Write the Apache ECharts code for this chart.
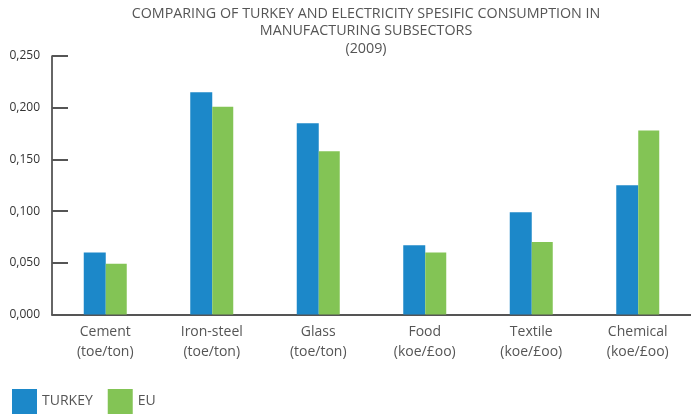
<!DOCTYPE html>
<html>
<head>
<meta charset="utf-8">
<script src="https://cdn.jsdelivr.net/npm/echarts@6/dist/echarts.min.js"></script>
<style>
html,body{margin:0;padding:0;background:#fff;}
#c{width:691px;height:418px;}
</style>
</head>
<body>
<div id="c"></div>
<script>
const categories = ['Cement', 'Iron-steel', 'Glass', 'Food', 'Textile', 'Chemical'];
const units = ['(toe/ton)', '(toe/ton)', '(toe/ton)', '(koe/£oo)', '(koe/£oo)', '(koe/£oo)'];
const turkey = [0.060, 0.215, 0.185, 0.067, 0.099, 0.125];
const eu = [0.049, 0.201, 0.158, 0.060, 0.070, 0.178];
const yTicks = [0, 0.05, 0.10, 0.15, 0.20, 0.25];

const chart = echarts.init(document.getElementById('c'));
chart.setOption({
  animation: false,
  backgroundColor: '#fff',
  title: {
    text: 'COMPARING OF TURKEY AND ELECTRICITY SPESIFIC CONSUMPTION IN\nMANUFACTURING SUBSECTORS\n(2009)',
    left: 361,
    textAlign: 'center',
    top: 0,
    textStyle: {
      fontFamily: '"Open Sans", sans-serif',
      fontSize: 14.3,
      fontWeight: 'normal',
      color: '#555',
      lineHeight: 17.5
    }
  },
  legend: {
    left: 7,
    top: 384,
    itemWidth: 25,
    itemHeight: 25,
    itemGap: 15,
    icon: 'rect',
    textStyle: { fontFamily: '"Open Sans", sans-serif', fontSize: 14, color: '#555' },
    data: ['TURKEY', 'EU']
  },
  grid: { left: 52, top: 56, width: 648, bottom: 103.5, containLabel: false },
  xAxis: {
    type: 'category',
    data: categories.map((c, i) => c + '\n' + units[i]),
    axisLine: { lineStyle: { color: '#555', width: 2 } },
    axisTick: { inside: true, length: 6, lineStyle: { color: '#333', width: 1.5 } },
    axisLabel: {
      margin: 8,
      fontFamily: '"Open Sans", sans-serif',
      fontSize: 14,
      lineHeight: 20,
      color: '#555'
    }
  },
  yAxis: {
    type: 'value',
    min: yTicks[0],
    max: yTicks[yTicks.length - 1],
    interval: 0.05,
    splitLine: { show: false },
    axisLine: { show: true, lineStyle: { color: '#333', width: 1.5 } },
    axisTick: { show: true, inside: true, length: 16, lineStyle: { color: '#555', width: 2 } },
    axisLabel: {
      margin: 12,
      fontFamily: '"Open Sans", sans-serif',
      fontSize: 12,
      color: '#333',
      formatter: v => v.toFixed(3).replace('.', ',')
    }
  },
  series: [
    { name: 'TURKEY', type: 'bar', data: turkey, barWidth: 22, barGap: '0%', itemStyle: { color: '#1C88C9' } },
    { name: 'EU', type: 'bar', data: eu, barWidth: 21, barGap: '0%', itemStyle: { color: '#83C455' } }
  ]
});
</script>
</body>
</html>
